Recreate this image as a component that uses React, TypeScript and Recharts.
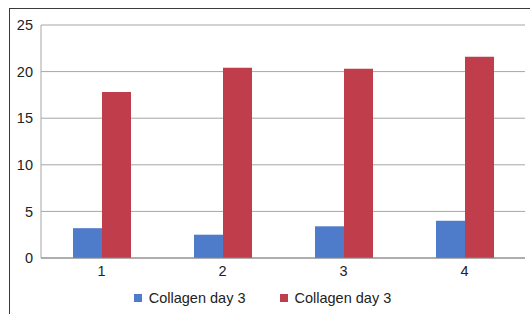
import React from "react";
import { BarChart, Bar, XAxis, YAxis, CartesianGrid, Legend } from "recharts";

const categories = ["1", "2", "3", "4"];
const blueValues = [3.2, 2.5, 3.4, 4.0];
const redValues = [17.8, 20.4, 20.3, 21.6];
const yTicks = [0, 5, 10, 15, 20, 25];

const chartData = categories.map((name, i) => ({
  name,
  blue: blueValues[i],
  red: redValues[i],
}));

const FONT = "'Liberation Sans', Arial, sans-serif";

function renderLegend(props: any) {
  const items = props.payload || [];
  return (
    <div style={{ display: "flex", justifyContent: "center", alignItems: "center", height: 20, fontFamily: FONT, fontSize: 14.5, color: "#222" }}>
      {items.map((entry: any, i: number) => (
        <div key={`legend-${i}`} style={{ display: "flex", alignItems: "center", marginLeft: i === 0 ? 0 : 34 }}>
          <span style={{ display: "inline-block", width: 8, height: 8, background: entry.color, marginRight: 7 }} />
          <span>{entry.value}</span>
        </div>
      ))}
    </div>
  );
}

export default function App() {
  return (
    <div style={{ position: "absolute", left: 0, top: 0, width: 530, height: 314, background: "#fff", overflow: "hidden", fontFamily: FONT }}>
      <div
        style={{
          position: "absolute",
          left: 9,
          top: 8,
          width: 540,
          height: 330,
          borderTop: "1px solid #3a3a3a",
          borderLeft: "1px solid #3a3a3a",
        }}
      />
      <div style={{ position: "absolute", left: 0, top: 0 }}>
        <BarChart
          width={530}
          height={314}
          data={chartData}
          margin={{ top: 25, right: 5, left: 0, bottom: 0 }}
          barGap={0}
          barSize={29}
        >
          <CartesianGrid vertical={false} stroke="#a6a6a6" />
          <XAxis
            dataKey="name"
            axisLine={{ stroke: "#888888" }}
            tickLine={false}
            height={30}
            tick={{ fill: "#222", fontSize: 14.5, fontFamily: FONT }}
          />
          <YAxis
            domain={[0, 25]}
            ticks={yTicks}
            width={41}
            axisLine={{ stroke: "#a6a6a6" }}
            tickLine={false}
            tick={{ fill: "#222", fontSize: 14.5, fontFamily: FONT }}
          />
          <Legend verticalAlign="bottom" height={26} content={renderLegend} />
          <Bar dataKey="blue" name="Collagen day 3" fill="#4f7bcb" isAnimationActive={false} />
          <Bar dataKey="red" name="Collagen day 3" fill="#c03e4b" isAnimationActive={false} />
        </BarChart>
      </div>
    </div>
  );
}
